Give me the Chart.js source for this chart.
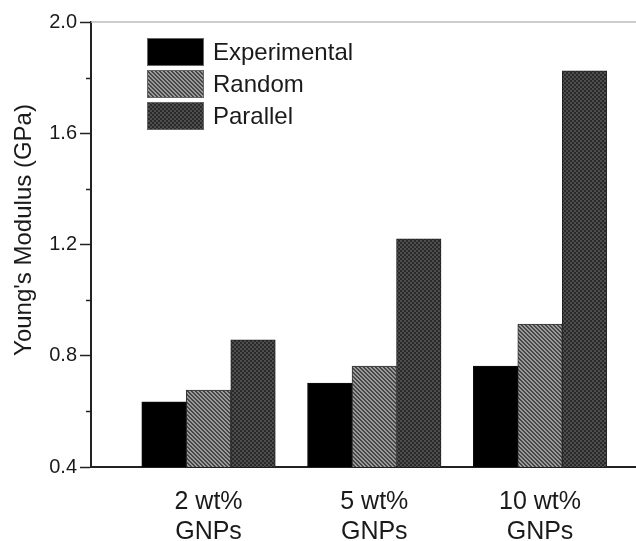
<!DOCTYPE html>
<html>
<head>
<meta charset="utf-8">
<script src="https://cdn.jsdelivr.net/npm/chart.js@4"></script>
<style>
  html, body { margin: 0; padding: 0; background: #fff; }
  #wrap { width: 636px; height: 541px; position: relative; }
</style>
</head>
<body>
<div id="wrap"><canvas id="modulusChart"></canvas></div>
<script>
// Young's modulus per GNP loading (GPa)
const categories = [['2 wt%', 'GNPs'], ['5 wt%', 'GNPs'], ['10 wt%', 'GNPs']];
const seriesNames = ['Experimental', 'Random', 'Parallel'];
const experimental = [0.634, 0.702, 0.763];
const random = [0.677, 0.763, 0.914];
const parallel = [0.857, 1.220, 1.824];
const yTicks = [0.4, 0.8, 1.2, 1.6, 2.0];
const yMinorTicks = [0.6, 1.0, 1.4, 1.8];

const FONT = '"Liberation Sans", Arial, sans-serif';

// small repeating fills for the hatched bars
function makePattern(draw) {
    const c = document.createElement('canvas');
    c.width = 4; c.height = 4;
    const g = c.getContext('2d');
    draw(g);
    return g.createPattern(c, 'repeat');
}
const stripeFill = makePattern(g => {
    for (let y = 0; y < 4; y++) {
        for (let x = 0; x < 4; x++) {
            g.fillStyle = ((x - y + 8) % 4 < 2) ? '#474747' : '#9a9a9a';
            g.fillRect(x, y, 1, 1);
        }
    }
});
const checkFill = makePattern(g => {
    g.fillStyle = '#2a2a2a';
    g.fillRect(0, 0, 4, 4);
    g.fillStyle = '#4e4e4e';
    g.fillRect(0, 0, 2, 2);
    g.fillRect(2, 2, 2, 2);
});

function toPoints(arr) {
    return arr.map((v, i) => ({ x: i + 1, y: v }));
}

const fills = ['#000000', stripeFill, checkFill];
const borders = ['#111111', '#333333', '#222222'];
const seriesData = [experimental, random, parallel];

const datasets = seriesNames.map((name, i) => ({
    label: name,
    data: toPoints(seriesData[i]),
    backgroundColor: fills[i],
    borderColor: borders[i],
    borderWidth: 1,
    barThickness: 44.5
}));

// extra bits drawn on top: frame line, minor ticks, axis title, legend
const decorations = {
    id: 'decorations',
    afterDraw(chart) {
        const ctx = chart.ctx;
        const area = chart.chartArea;
        const yScale = chart.scales.y;
        ctx.save();

        ctx.strokeStyle = '#bdbdbd';
        ctx.lineWidth = 1.5;
        ctx.beginPath();
        ctx.moveTo(area.left, area.top);
        ctx.lineTo(area.right, area.top);
        ctx.stroke();

        ctx.strokeStyle = '#222';
        ctx.lineWidth = 1.5;
        yMinorTicks.forEach(v => {
            const py = Math.round(yScale.getPixelForValue(v)) + 0.5;
            ctx.beginPath();
            ctx.moveTo(area.left - 5, py);
            ctx.lineTo(area.left, py);
            ctx.stroke();
        });

        ctx.fillStyle = '#1a1a1a';
        ctx.font = '24px ' + FONT;
        ctx.textAlign = 'center';
        ctx.textBaseline = 'middle';
        ctx.save();
        ctx.translate(24, 230);
        ctx.rotate(-Math.PI / 2);
        ctx.fillText("Young's Modulus (GPa)", 0, 0);
        ctx.restore();

        ctx.textAlign = 'left';
        chart.data.datasets.forEach((ds, i) => {
            const top = 38 + i * 32;
            ctx.fillStyle = ds.backgroundColor;
            ctx.fillRect(147, top, 57, 28);
            ctx.strokeStyle = '#666';
            ctx.lineWidth = 1;
            ctx.strokeRect(147.5, top + 0.5, 56, 27);
            ctx.fillStyle = '#1a1a1a';
            ctx.fillText(ds.label, 213, top + 15);
        });
        ctx.restore();
    }
};

new Chart(document.getElementById('modulusChart'), {
    type: 'bar',
    data: { datasets },
    plugins: [decorations],
    options: {
        responsive: true,
        maintainAspectRatio: false,
        animation: false,
        layout: { padding: { top: 22, right: 0, bottom: 0, left: 0 } },
        plugins: {
            legend: { display: false },
            tooltip: { enabled: false }
        },
        scales: {
            x: {
                type: 'linear',
                min: 0.291,
                max: 3.579,
                offset: false,
                afterBuildTicks: scale => {
                    scale.ticks = categories.map((c, i) => ({ value: i + 1 }));
                },
                afterFit: scale => { scale.height = 74; },
                grid: { display: false, offset: false },
                border: { display: true, color: '#222', width: 2 },
                ticks: {
                    autoSkip: false,
                    maxRotation: 0,
                    padding: 12,
                    color: '#1a1a1a',
                    font: { family: FONT, size: 25, lineHeight: 1.2 },
                    callback: value => categories[Math.round(value) - 1] || ''
                }
            },
            y: {
                min: 0.4,
                max: 2.0,
                afterFit: scale => { scale.width = 91; },
                afterBuildTicks: scale => {
                    scale.ticks = yTicks.map(v => ({ value: v }));
                },
                grid: {
                    display: true,
                    drawOnChartArea: false,
                    drawTicks: true,
                    tickLength: 11,
                    tickColor: '#222',
                    tickWidth: 1.5
                },
                border: { display: true, color: '#222', width: 2 },
                ticks: {
                    padding: 3,
                    color: '#1a1a1a',
                    font: { family: FONT, size: 20 },
                    callback: v => v.toFixed(1)
                }
            }
        }
    }
});
</script>
</body>
</html>
